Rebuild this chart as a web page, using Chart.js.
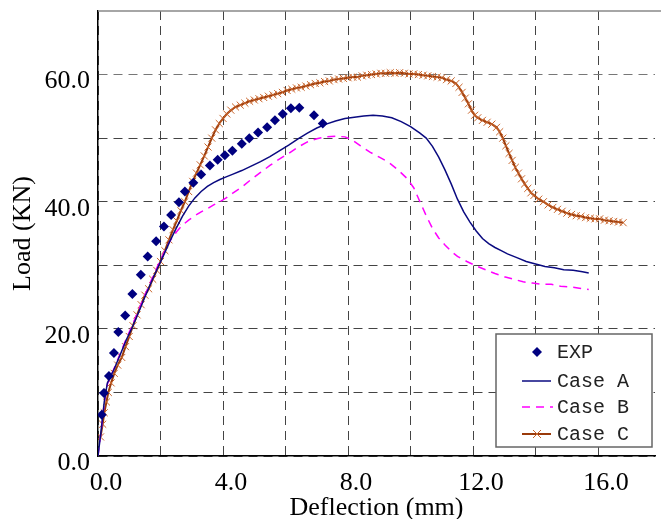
<!DOCTYPE html>
<html>
<head>
<meta charset="utf-8">
<script src="https://cdn.jsdelivr.net/npm/chart.js@4"></script>
<style>
  html, body { margin: 0; padding: 0; background: #fff; overflow: hidden; }
</style>
</head>
<body>
<canvas id="loadChart" width="661" height="519"></canvas>
<script>
// Experimental points (deflection mm, load KN)
const expX = [0.12, 0.19, 0.35, 0.51, 0.65, 0.87, 1.10, 1.37, 1.59, 1.86, 2.11, 2.34, 2.59, 2.78, 3.05, 3.30, 3.58, 3.83, 4.06, 4.30, 4.60, 4.84, 5.12, 5.41, 5.66, 5.91, 6.17, 6.44, 6.91, 7.19];
const expY = [6.5, 9.9, 12.6, 16.2, 19.5, 22.1, 25.5, 28.5, 31.4, 33.8, 36.1, 37.9, 39.9, 41.6, 43.0, 44.3, 45.7, 46.6, 47.3, 48.0, 49.1, 50.0, 50.9, 51.7, 52.8, 53.8, 54.7, 54.8, 53.6, 52.3];

// Case A
const caseAX = [0, 0.1, 0.2, 0.3, 0.5, 0.7, 0.9, 1.1, 1.3, 1.5, 1.7, 1.9, 2.1, 2.3, 2.5, 2.7, 2.9, 3.1, 3.3, 3.5, 3.7, 3.9, 4.1, 4.3, 4.6, 4.9, 5.2, 5.5, 5.8, 6.1, 6.4, 6.7, 7.0, 7.3, 7.6, 7.9, 8.2, 8.5, 8.8, 9.1, 9.4, 9.7, 10.0, 10.3, 10.5, 10.7, 10.9, 11.1, 11.3, 11.5, 11.7, 11.9, 12.1, 12.3, 12.5, 12.7, 12.9, 13.1, 13.4, 13.7, 14.0, 14.3, 14.6, 14.9, 15.2, 15.5, 15.7];
const caseAY = [0, 4.0, 8.5, 11.5, 13.5, 15.8, 18.2, 20.3, 22.6, 25.0, 27.3, 29.5, 31.6, 33.8, 35.8, 37.7, 39.3, 40.6, 41.6, 42.4, 43.0, 43.5, 43.9, 44.3, 44.9, 45.6, 46.3, 47.1, 48.0, 48.9, 49.9, 50.8, 51.6, 52.2, 52.7, 53.1, 53.3, 53.5, 53.6, 53.5, 53.2, 52.6, 51.8, 50.8, 50.0, 48.7, 47.0, 45.0, 42.8, 40.4, 38.4, 36.8, 35.4, 34.2, 33.4, 32.8, 32.3, 31.8, 31.2, 30.6, 30.2, 29.8, 29.6, 29.3, 29.2, 29.0, 28.8];

// Case B
const caseBX = [0, 0.1, 0.2, 0.3, 0.5, 0.7, 0.9, 1.1, 1.3, 1.5, 1.7, 1.9, 2.1, 2.3, 2.5, 2.7, 2.9, 3.1, 3.3, 3.5, 3.7, 3.9, 4.1, 4.3, 4.6, 4.9, 5.2, 5.5, 5.8, 6.1, 6.4, 6.7, 7.0, 7.3, 7.6, 7.9, 8.1, 8.4, 8.7, 9.0, 9.3, 9.6, 9.9, 10.1, 10.3, 10.5, 10.7, 10.9, 11.1, 11.3, 11.5, 11.8, 12.1, 12.4, 12.7, 13.0, 13.3, 13.6, 13.9, 14.2, 14.5, 14.8, 15.1, 15.4, 15.7];
const caseBY = [0, 4.0, 8.3, 11.3, 13.6, 16.0, 18.4, 20.6, 23.0, 25.3, 27.6, 29.8, 31.9, 33.8, 35.2, 36.3, 37.1, 37.8, 38.4, 38.9, 39.5, 40.0, 40.6, 41.3, 42.3, 43.5, 44.6, 45.7, 46.7, 47.6, 48.6, 49.4, 49.9, 50.2, 50.3, 50.2, 49.8, 48.8, 47.8, 47.0, 46.2, 45.0, 43.6, 42.2, 40.0, 37.8, 35.8, 34.3, 33.2, 32.2, 31.4, 30.6, 29.9, 29.3, 28.7, 28.2, 27.8, 27.4, 27.2, 27.0, 27.0, 26.7, 26.6, 26.4, 26.2];

// Case C
const caseCX = [0.08, 0.15, 0.2, 0.27, 0.33, 0.42, 0.52, 0.63, 0.76, 0.88, 1.0, 1.12, 1.25, 1.38, 1.5, 1.62, 1.75, 1.88, 2.0, 2.14, 2.27, 2.4, 2.52, 2.65, 2.78, 2.9, 3.03, 3.15, 3.27, 3.4, 3.52, 3.64, 3.76, 3.88, 4.0, 4.12, 4.25, 4.4, 4.55, 4.7, 4.85, 5.0, 5.15, 5.3, 5.45, 5.6, 5.75, 5.9, 6.05, 6.2, 6.35, 6.5, 6.65, 6.8, 6.95, 7.1, 7.25, 7.4, 7.55, 7.7, 7.85, 8.0, 8.15, 8.3, 8.45, 8.6, 8.75, 8.9, 9.05, 9.2, 9.35, 9.5, 9.65, 9.8, 9.95, 10.1, 10.25, 10.4, 10.55, 10.7, 10.85, 11.0, 11.15, 11.3, 11.45, 11.55, 11.65, 11.75, 11.85, 11.95, 12.05, 12.15, 12.3, 12.45, 12.6, 12.75, 12.85, 12.95, 13.05, 13.15, 13.25, 13.35, 13.45, 13.55, 13.65, 13.75, 13.85, 13.95, 14.1, 14.25, 14.4, 14.55, 14.7, 14.85, 15.0, 15.15, 15.3, 15.45, 15.6, 15.75, 15.9, 16.05, 16.2, 16.35, 16.5, 16.65, 16.8];
const caseCY = [3.0, 5.0, 6.8, 8.5, 10.0, 11.5, 13.0, 14.3, 15.5, 17.2, 18.8, 20.5, 22.2, 23.8, 25.3, 26.3, 27.8, 29.2, 30.6, 32.3, 34.0, 35.6, 37.0, 38.6, 40.0, 41.6, 43.2, 44.5, 45.8, 47.2, 48.6, 50.0, 51.3, 52.3, 53.1, 53.8, 54.4, 54.9, 55.2, 55.5, 55.8, 56.0, 56.2, 56.4, 56.6, 56.8, 57.0, 57.2, 57.5, 57.7, 57.9, 58.0, 58.2, 58.4, 58.6, 58.7, 58.9, 59.0, 59.2, 59.3, 59.4, 59.5, 59.6, 59.6, 59.8, 59.9, 60.0, 60.1, 60.2, 60.2, 60.3, 60.2, 60.3, 60.2, 60.1, 60.1, 60.0, 59.9, 59.8, 59.7, 59.6, 59.5, 59.2, 59.0, 58.6, 58.0, 57.2, 56.3, 55.4, 54.4, 53.6, 53.2, 52.8, 52.5, 52.2, 51.7, 51.0, 50.0, 48.8, 47.6, 46.5, 45.4, 44.5, 43.6, 42.8, 42.1, 41.4, 41.0, 40.4, 40.0, 39.5, 39.1, 38.8, 38.5, 38.2, 38.0, 37.8, 37.7, 37.5, 37.4, 37.3, 37.3, 37.1, 37.0, 36.9, 36.8, 36.7];

// Axis ticks: grid every 2 mm / 10 KN, labels every 4 mm / 20 KN
const xTickValues = [0, 2, 4, 6, 8, 10, 12, 14, 16];
const xTickLabels = ["0.0", "", "4.0", "", "8.0", "", "12.0", "", "16.0"];
const yTickValues = [0, 10, 20, 30, 40, 50, 60, 70];
const yTickLabels = ["0.0", "", "20.0", "", "40.0", "", "60.0", ""];

const legendLabels = ["EXP", "Case A", "Case B", "Case C"];

const colors = {
  exp: "#000080",
  caseA: "#0a0a80",
  caseB: "#ff00ff",
  caseC: "#9a3a0a",
  caseCMark: "#c8642a"
};

const toPoints = (xs, ys) => xs.map((x, i) => ({ x: x, y: ys[i] }));

const serif = "'Liberation Serif', 'Times New Roman', serif";

// Legend box drawn inside the plot area
const boxLegend = {
  id: "boxLegend",
  afterDraw(chart) {
    const ctx = chart.ctx;
    const bx = 496, by = 334, bw = 156, bh = 113;
    ctx.save();
    ctx.fillStyle = "#fff";
    ctx.fillRect(bx, by, bw, bh);
    ctx.strokeStyle = "#666";
    ctx.lineWidth = 1.5;
    ctx.strokeRect(bx, by, bw, bh);

    const rows = [352, 381, 407, 434];
    const sx1 = 522, sx2 = 551, cx = 537;

    // EXP diamond
    ctx.fillStyle = colors.exp;
    ctx.beginPath();
    ctx.moveTo(cx, rows[0] - 5);
    ctx.lineTo(cx + 5, rows[0]);
    ctx.lineTo(cx, rows[0] + 5);
    ctx.lineTo(cx - 5, rows[0]);
    ctx.closePath();
    ctx.fill();

    // Case A
    ctx.strokeStyle = colors.caseA;
    ctx.lineWidth = 1.5;
    ctx.beginPath();
    ctx.moveTo(sx1, rows[1]);
    ctx.lineTo(sx2, rows[1]);
    ctx.stroke();

    // Case B
    ctx.strokeStyle = colors.caseB;
    ctx.setLineDash([8, 6]);
    ctx.beginPath();
    ctx.moveTo(sx1, rows[2]);
    ctx.lineTo(sx2 + 2, rows[2]);
    ctx.stroke();
    ctx.setLineDash([]);

    // Case C
    ctx.strokeStyle = colors.caseC;
    ctx.lineWidth = 2;
    ctx.beginPath();
    ctx.moveTo(sx1, rows[3]);
    ctx.lineTo(sx2, rows[3]);
    ctx.stroke();
    ctx.strokeStyle = colors.caseCMark;
    ctx.lineWidth = 1;
    ctx.beginPath();
    ctx.moveTo(cx - 4, rows[3] - 4);
    ctx.lineTo(cx + 4, rows[3] + 4);
    ctx.moveTo(cx + 4, rows[3] - 4);
    ctx.lineTo(cx - 4, rows[3] + 4);
    ctx.stroke();

    ctx.fillStyle = "#222";
    ctx.font = "20px 'Liberation Mono', 'DejaVu Sans Mono', monospace";
    ctx.textBaseline = "middle";
    ctx.textAlign = "left";
    legendLabels.forEach((t, i) => ctx.fillText(t, 557, rows[i] + 1));
    ctx.restore();
  }
};

// Solid grey frame line along the top of the plot
const topFrame = {
  id: "topFrame",
  afterDatasetsDraw(chart) {
    const { ctx, chartArea } = chart;
    ctx.save();
    ctx.strokeStyle = "#888";
    ctx.lineWidth = 1.5;
    ctx.beginPath();
    ctx.moveTo(chartArea.left, chartArea.top);
    ctx.lineTo(chart.width, chartArea.top);
    ctx.stroke();
    ctx.restore();
  }
};

const ctx = document.getElementById("loadChart").getContext("2d");

new Chart(ctx, {
  type: "scatter",
  data: {
    datasets: [
      {
        label: legendLabels[0],
        data: toPoints(expX, expY),
        showLine: false,
        pointStyle: "rectRot",
        pointRadius: 5,
        pointBackgroundColor: colors.exp,
        pointBorderWidth: 0
      },
      {
        label: legendLabels[1],
        data: toPoints(caseAX, caseAY),
        showLine: true,
        borderColor: colors.caseA,
        borderWidth: 1.5,
        pointRadius: 0
      },
      {
        label: legendLabels[2],
        data: toPoints(caseBX, caseBY),
        showLine: true,
        borderColor: colors.caseB,
        borderWidth: 1.5,
        borderDash: [8, 6],
        pointRadius: 0
      },
      {
        label: legendLabels[3],
        data: toPoints(caseCX, caseCY),
        showLine: true,
        borderColor: colors.caseC,
        borderWidth: 2,
        pointStyle: "crossRot",
        pointRadius: 5,
        pointBorderColor: colors.caseCMark,
        pointBorderWidth: 1
      }
    ]
  },
  options: {
    responsive: false,
    animation: false,
    layout: { padding: { top: 11, right: 0, left: 0, bottom: 0 } },
    plugins: {
      legend: { display: false },
      tooltip: { enabled: false }
    },
    scales: {
      x: {
        type: "linear",
        min: 0,
        max: 17.82,
        afterBuildTicks: (scale) => {
          scale.ticks = xTickValues.map((v) => ({ value: v }));
        },
        afterFit: (scale) => {
          scale.height = 63;
          scale.paddingLeft = 0;
          scale.paddingRight = 0;
        },
        grid: { color: "#444", lineWidth: 1, drawTicks: false },
        border: { color: "#000", width: 1.5, dash: [9, 6] },
        ticks: {
          autoSkip: false,
          maxRotation: 0,
          padding: 12,
          labelOffset: 8,
          color: "#000",
          font: { family: serif, size: 26 },
          callback: (v, i) => xTickLabels[i]
        },
        title: {
          display: true,
          text: "Deflection (mm)",
          color: "#000",
          font: { family: serif, size: 26, lineHeight: 0.85 },
          padding: { top: 0, bottom: 0 }
        }
      },
      y: {
        type: "linear",
        min: 0,
        max: 70,
        afterBuildTicks: (scale) => {
          scale.ticks = yTickValues.map((v) => ({ value: v }));
        },
        afterFit: (scale) => {
          scale.width = 98;
          scale.paddingTop = 0;
          scale.paddingBottom = 0;
        },
        grid: {
          color: (c) => (c.tick && c.tick.value === 70 ? "rgba(0,0,0,0)" : (c.tick && c.tick.value === 60 ? "#777" : "#444")),
          lineWidth: 1,
          drawTicks: false
        },
        border: { color: "#000", width: 1.5, dash: [9, 6] },
        ticks: {
          autoSkip: false,
          padding: 8,
          labelOffset: 7,
          color: "#000",
          font: { family: serif, size: 26 },
          callback: (v, i) => yTickLabels[i]
        },
        title: {
          display: true,
          text: "Load (KN)",
          color: "#000",
          font: { family: serif, size: 26, lineHeight: 1.2 },
          padding: { top: 8, bottom: 0 }
        }
      }
    }
  },
  plugins: [topFrame, boxLegend]
});
</script>
</body>
</html>
